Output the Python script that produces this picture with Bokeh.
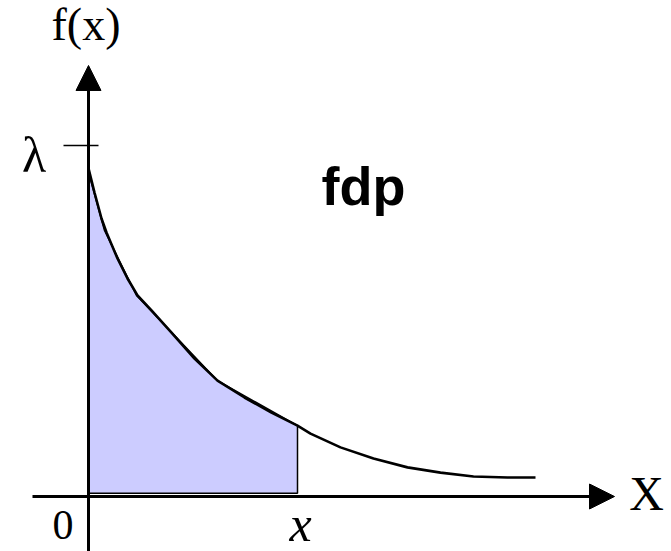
from bokeh.plotting import figure
from bokeh.models import Range1d, Arrow, NormalHead
from bokeh.embed import file_html
from bokeh.resources import INLINE
from bokeh.core.properties import value

# density curve f(x) = lambda * exp(-lambda x) (lambda = 1)
curve_x = [0.0, 0.06, 0.13, 0.18, 0.29, 0.39, 0.49, 0.63, 0.83, 1.06, 1.29,
           1.56, 1.83, 2.09, 2.22, 2.52, 2.85, 3.19, 3.52, 3.85, 4.19, 4.47]
curve_y = [0.935, 0.866, 0.792, 0.752, 0.678, 0.621, 0.573, 0.530, 0.467, 0.393, 0.330,
           0.282, 0.239, 0.202, 0.179, 0.140, 0.108, 0.083, 0.068, 0.057, 0.054, 0.054]

# shaded area between 0 and x (drawn as a coarse polygon)
area_x = [0.0, 0.16, 0.48, 1.29, 2.09, 2.09, 0.0]
area_y = [0.923, 0.758, 0.573, 0.330, 0.202, 0.009, 0.009]

lam = 1.0
x_mark = 2.09

W, H = 671, 551
p = figure(width=W, height=H, output_backend="svg", toolbar_location=None,
           x_range=Range1d(-0.88, -0.88 + W / 100.0),
           y_range=Range1d(-55 / 351.0, (H - 55) / 351.0),
           min_border=0, x_axis_location=None, y_axis_location=None,
           outline_line_color=None, background_fill_color="white")
p.grid.visible = False

# shaded region
p.patch(area_x, area_y, fill_color="#CCCCFF", line_color="black", line_width=1.5)

# curve
p.line(curve_x, curve_y, line_color="black", line_width=2.6)

# axes with arrows
p.add_layout(Arrow(end=NormalHead(size=25, fill_color="black", line_color="black"),
                   x_start=-0.56, y_start=0, x_end=5.26, y_end=0,
                   line_color="black", line_width=3))
p.add_layout(Arrow(end=NormalHead(size=25, fill_color="black", line_color="black"),
                   x_start=0, y_start=-0.17, x_end=0, y_end=1.228,
                   line_color="black", line_width=3))

# lambda tick
p.line([-0.25, 0.10], [lam, lam], line_color="black", line_width=1.5)

serif = value("Liberation Serif")
p.text(x=[-0.37], y=[1.345], text=["f(x)"], text_font=serif, text_font_size="46px",
       text_align="left", text_baseline="alphabetic", text_color="black")
p.text(x=[-0.545], y=[0.972], text=["λ"], text_font=serif, text_font_size="50px",
       text_align="center", text_baseline="alphabetic", text_color="black")
p.text(x=[5.58], y=[0.008], text=["X"], text_font=serif, text_font_size="48px",
       text_align="center", text_baseline="alphabetic", text_color="black")
p.text(x=[-0.255], y=[-0.082], text=["0"], text_font=serif, text_font_size="42px",
       text_align="center", text_baseline="alphabetic", text_color="black")
p.text(x=[x_mark + 0.03], y=[-0.077], text=["x"], text_font=serif, text_font_size="50px",
       text_font_style="italic", text_align="center", text_baseline="alphabetic",
       text_color="black")
p.text(x=[2.33], y=[0.885], text=["fdp"], text_font=value("Liberation Sans"),
       text_font_size="54px", text_font_style="bold", text_align="left",
       text_baseline="alphabetic", text_color="black")

open("out.html", "w").write(file_html(p, INLINE))
